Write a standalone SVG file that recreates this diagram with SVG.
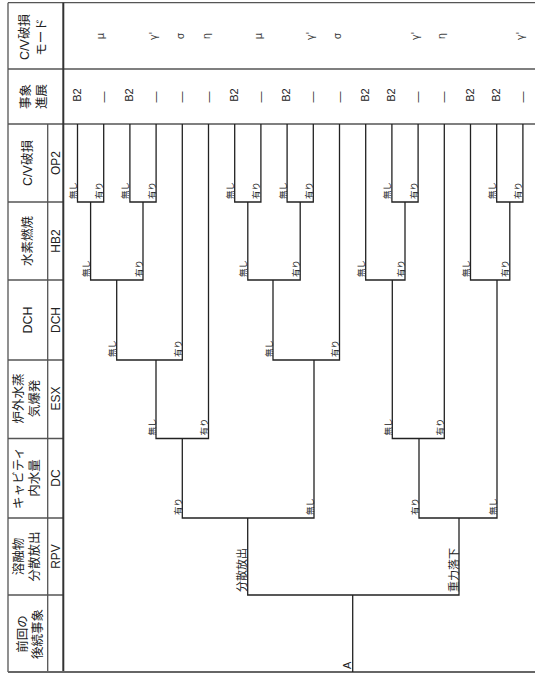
<svg xmlns="http://www.w3.org/2000/svg" width="535" height="674" viewBox="0 0 535 674">
<style>
.frame{stroke:#555;stroke-width:1.3;fill:none}
.thick{stroke:#333;stroke-width:2;fill:none}
.tree{stroke:#222;stroke-width:1.3;fill:none}
text{font-family:"Liberation Sans","Noto Sans CJK JP",sans-serif;fill:#222}
.h{font-size:12.5px;text-anchor:middle;dominant-baseline:central}
.code{font-size:12px;text-anchor:middle;dominant-baseline:central}
.ev{font-size:11px;text-anchor:middle;dominant-baseline:central}
.md{font-size:10px;text-anchor:middle;dominant-baseline:central;fill:#444;font-family:"DejaVu Sans",sans-serif}
.lb{font-size:8.5px;text-anchor:start}
.lb2{font-size:11px;text-anchor:start}
</style>
<rect width="535" height="674" fill="#fff"/>
<g id="frame">
<path class="frame" d="M8,2.7 H535 M8,69 H535 M8,124 H535 M8,2.7 V672 M47.7,124 V672 M8,202 H63.3 M8,280 H63.3 M8,360 H63.3 M8,438.5 H63.3 M8,518 H63.3 M8,595 H63.3"/>
<path class="thick" d="M63.3,2.7 V672"/>
<path d="M8,672 H535" stroke="#666" stroke-width="2"/>
</g>
<g id="headers">
<g id="h-mode"><text class="h" transform="translate(25,37) rotate(-90)">C/V破損</text><text class="h" transform="translate(42,37) rotate(-90)">モード</text></g>
<g id="h-prog"><text class="h" transform="translate(26,96.5) rotate(-90)">事象</text><text class="h" transform="translate(42,96.5) rotate(-90)">進展</text></g>
<g id="h-op2"><text class="h" transform="translate(27.5,163) rotate(-90)">C/V破損</text><text class="code" transform="translate(55.5,163) rotate(-90)">OP2</text></g>
<g id="h-hb2"><text class="h" transform="translate(27.5,241) rotate(-90)">水素燃焼</text><text class="code" transform="translate(55.5,241) rotate(-90)">HB2</text></g>
<g id="h-dch"><text class="h" transform="translate(27.5,320) rotate(-90)">DCH</text><text class="code" transform="translate(55.5,320) rotate(-90)">DCH</text></g>
<g id="h-esx"><text class="h" transform="translate(19,398.5) rotate(-90)">炉外水蒸</text><text class="h" transform="translate(35,398.5) rotate(-90)">気爆発</text><text class="code" transform="translate(55.5,398.5) rotate(-90)">ESX</text></g>
<g id="h-dc"><text class="h" transform="translate(19,478) rotate(-90)">キャビティ</text><text class="h" transform="translate(35,478) rotate(-90)">内水量</text><text class="code" transform="translate(55.5,478) rotate(-90)">DC</text></g>
<g id="h-rpv"><text class="h" transform="translate(19,556.5) rotate(-90)">溶融物</text><text class="h" transform="translate(35,556.5) rotate(-90)">分散放出</text><text class="code" transform="translate(55.5,556.5) rotate(-90)">RPV</text></g>
<g id="h-prev"><text class="h" transform="translate(22.5,634) rotate(-90)">前回の</text><text class="h" transform="translate(38,634) rotate(-90)">後続事象</text></g>
</g>
<g id="connectors">
<path class="tree" d="M352.7,672 V595"/>
<path class="tree" d="M247.7,518 V595 H459 V518"/>
<path class="tree" d="M182.3,438.5 V518 H314 V360"/>
<path class="tree" d="M419,438.5 V518 H497 V280"/>
<path class="tree" d="M156,360 V438.5 H208.5 V124"/>
<path class="tree" d="M392.3,280 V438.5 H444.3 V124"/>
<path class="tree" d="M116.7,280 V360 H182.3 V124"/>
<path class="tree" d="M273,280 V360 H339.5 V124"/>
<path class="tree" d="M90.6,202 V280 H143 V202"/>
<path class="tree" d="M247.8,202 V280 H300.2 V202"/>
<path class="tree" d="M365.7,124 V280 H405 V202"/>
<path class="tree" d="M470.5,124 V280 H509.8 V202"/>
<path class="tree" d="M77.5,124 V202 H103.7 V124"/>
<path class="tree" d="M129.9,124 V202 H156.1 V124"/>
<path class="tree" d="M234.7,124 V202 H260.9 V124"/>
<path class="tree" d="M287.1,124 V202 H313.3 V124"/>
<path class="tree" d="M391.9,124 V202 H418.1 V124"/>
<path class="tree" d="M496.7,124 V202 H522.9 V124"/>
</g>
<g id="branch-labels">
<g id="n-root"><text class="lb2" transform="translate(350.5,669) rotate(-90)">A</text></g>
<g id="n-rpv"><text class="lb2" transform="translate(246,592) rotate(-90)">分散放出</text><text class="lb2" transform="translate(457.5,592) rotate(-90)">重力落下</text></g>
<g id="n-dc1"><text class="lb" transform="translate(180.8,515) rotate(-90)">有り</text><text class="lb" transform="translate(312.5,515) rotate(-90)">無し</text></g>
<g id="n-dc2"><text class="lb" transform="translate(417.5,515) rotate(-90)">有り</text><text class="lb" transform="translate(495.5,515) rotate(-90)">無し</text></g>
<g id="n-esx1"><text class="lb" transform="translate(154.5,435.5) rotate(-90)">無し</text><text class="lb" transform="translate(207,435.5) rotate(-90)">有り</text></g>
<g id="n-esx2"><text class="lb" transform="translate(390.8,435.5) rotate(-90)">無し</text><text class="lb" transform="translate(442.8,435.5) rotate(-90)">有り</text></g>
<g id="n-dch1"><text class="lb" transform="translate(115.2,357) rotate(-90)">無し</text><text class="lb" transform="translate(180.8,357) rotate(-90)">有り</text></g>
<g id="n-dch2"><text class="lb" transform="translate(271.5,357) rotate(-90)">無し</text><text class="lb" transform="translate(338,357) rotate(-90)">有り</text></g>
<g id="n-hb1"><text class="lb" transform="translate(89.1,277) rotate(-90)">無し</text><text class="lb" transform="translate(141.5,277) rotate(-90)">有り</text></g>
<g id="n-hb2"><text class="lb" transform="translate(246.3,277) rotate(-90)">無し</text><text class="lb" transform="translate(298.7,277) rotate(-90)">有り</text></g>
<g id="n-hb3"><text class="lb" transform="translate(364.2,277) rotate(-90)">無し</text><text class="lb" transform="translate(403.5,277) rotate(-90)">有り</text></g>
<g id="n-hb4"><text class="lb" transform="translate(469,277) rotate(-90)">無し</text><text class="lb" transform="translate(508.3,277) rotate(-90)">有り</text></g>
<g id="n-op1"><text class="lb" transform="translate(76,199) rotate(-90)">無し</text><text class="lb" transform="translate(102.2,199) rotate(-90)">有り</text></g>
<g id="n-op2"><text class="lb" transform="translate(128.4,199) rotate(-90)">無し</text><text class="lb" transform="translate(154.6,199) rotate(-90)">有り</text></g>
<g id="n-op3"><text class="lb" transform="translate(233.2,199) rotate(-90)">無し</text><text class="lb" transform="translate(259.4,199) rotate(-90)">有り</text></g>
<g id="n-op4"><text class="lb" transform="translate(285.6,199) rotate(-90)">無し</text><text class="lb" transform="translate(311.8,199) rotate(-90)">有り</text></g>
<g id="n-op5"><text class="lb" transform="translate(390.4,199) rotate(-90)">無し</text><text class="lb" transform="translate(416.6,199) rotate(-90)">有り</text></g>
<g id="n-op6"><text class="lb" transform="translate(495.2,199) rotate(-90)">無し</text><text class="lb" transform="translate(521.4,199) rotate(-90)">有り</text></g>
</g>
<g id="progression">
<text class="ev" transform="translate(76.5,95) rotate(-90)">B2</text>
<text class="ev" transform="translate(102.7,97) rotate(-90)">—</text>
<text class="ev" transform="translate(128.9,95) rotate(-90)">B2</text>
<text class="ev" transform="translate(155.1,97) rotate(-90)">—</text>
<text class="ev" transform="translate(181.3,97) rotate(-90)">—</text>
<text class="ev" transform="translate(207.5,97) rotate(-90)">—</text>
<text class="ev" transform="translate(233.7,95) rotate(-90)">B2</text>
<text class="ev" transform="translate(259.9,97) rotate(-90)">—</text>
<text class="ev" transform="translate(286.1,95) rotate(-90)">B2</text>
<text class="ev" transform="translate(312.3,97) rotate(-90)">—</text>
<text class="ev" transform="translate(338.5,97) rotate(-90)">—</text>
<text class="ev" transform="translate(364.7,95) rotate(-90)">B2</text>
<text class="ev" transform="translate(390.9,95) rotate(-90)">B2</text>
<text class="ev" transform="translate(417.1,97) rotate(-90)">—</text>
<text class="ev" transform="translate(443.3,97) rotate(-90)">—</text>
<text class="ev" transform="translate(469.5,95) rotate(-90)">B2</text>
<text class="ev" transform="translate(495.7,95) rotate(-90)">B2</text>
<text class="ev" transform="translate(521.9,97) rotate(-90)">—</text>
</g>
<g id="modes">
<text class="md" transform="translate(100.5,36) rotate(-90)">μ</text>
<text class="md" transform="translate(153,36) rotate(-90)">γ'</text>
<text class="md" transform="translate(180,36) rotate(-90)">σ</text>
<text class="md" transform="translate(206,36) rotate(-90)">η</text>
<text class="md" transform="translate(258.5,36) rotate(-90)">μ</text>
<text class="md" transform="translate(310.5,36) rotate(-90)">γ'</text>
<text class="md" transform="translate(337.5,36) rotate(-90)">σ</text>
<text class="md" transform="translate(415,36) rotate(-90)">γ'</text>
<text class="md" transform="translate(441,36) rotate(-90)">η</text>
<text class="md" transform="translate(520,36) rotate(-90)">γ'</text>
</g>
</svg>
